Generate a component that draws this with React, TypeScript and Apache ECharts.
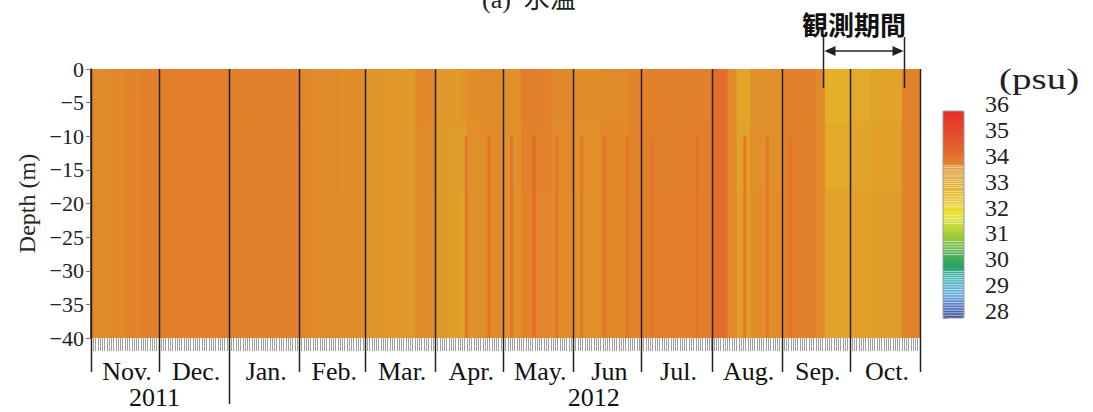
import React, { useEffect, useRef } from "react";
import * as echarts from "echarts";

// ---------- data ----------
const monthNames = ["Nov.", "Dec.", "Jan.", "Feb.", "Mar.", "Apr.", "May.", "Jun", "Jul.", "Aug.", "Sep.", "Oct."];
// day index (from 2011-11-01) at which each month starts, plus end
const monthStartDays = [0, 30, 61, 92, 121, 152, 182, 213, 243, 274, 305, 335, 366];
const yearBoundaryDay = 61;
const yearLabels = ["2011", "2012"];
const yearLabelDays = [28, 222];

// salinity field: piecewise in time, three layers (0..-8 m, -8..-18 m, -18..-40 m)
const layerDepths = [0, -8, -18, -40];
const segStartDays = [0, 8, 15, 22, 30, 61, 92, 97, 110, 121, 130, 137, 143, 148, 152, 158, 163, 166, 172, 182, 190, 197, 203, 213, 225, 237, 243, 260, 274, 281, 285, 291, 305, 320, 324, 335, 344, 358, 366];
const upperSalinity = [33.8, 33.85, 33.95, 34.0, 34.05, 34.0, 33.9, 33.78, 33.75, 33.62, 33.6, 33.55, 33.88, 33.85, 33.58, 33.55, 33.6, 33.75, 33.82, 33.72, 34.05, 34.0, 33.85, 33.75, 33.82, 33.92, 34.0, 34.0, 34.35, 33.8, 33.3, 33.72, 34.0, 33.8, 33.05, 33.2, 33.35, 33.95];
const middleSalinity = [33.8, 33.85, 33.95, 34.0, 34.05, 34.0, 33.9, 33.78, 33.75, 33.62, 33.6, 33.55, 33.83, 33.82, 33.56, 33.5, 33.5, 33.73, 33.81, 33.71, 34.0, 33.95, 33.82, 33.73, 33.84, 33.92, 34.02, 34.02, 34.33, 33.8, 33.36, 33.73, 34.0, 33.8, 33.2, 33.3, 33.4, 33.95];
const lowerSalinity = [33.8, 33.85, 33.95, 34.0, 34.05, 34.0, 33.9, 33.78, 33.75, 33.62, 33.6, 33.55, 33.78, 33.8, 33.55, 33.45, 33.42, 33.72, 33.8, 33.7, 33.95, 33.9, 33.8, 33.72, 33.85, 33.92, 34.05, 34.05, 34.32, 33.8, 33.45, 33.75, 34.0, 33.8, 33.35, 33.4, 33.45, 33.95];

// narrow saline streaks below ~10 m
const streakTopDepth = -10;
const streakDays = [165, 175, 185, 195, 205, 216, 226, 236, 247, 267, 288, 298, 308];
const streakSalinity = [34.2, 34.22, 34.2, 34.4, 34.2, 34.18, 34.2, 34.18, 34.22, 34.22, 34.15, 34.15, 34.2];

// observation period (days)
const observationDays = [323, 359];

// colour scale
const salinityMin = 28;
const salinityMax = 36;
const colorStops = [
  "#3a4ea0", "#5a7fc4", "#6ab4dc", "#48b4c0", "#28a464", "#58b058", "#8cc23e", "#c0d83c",
  "#ece432", "#e8c834", "#e4b22a", "#df9c29", "#e2802b", "#e4632a", "#e6502b", "#e8402b", "#e82e2a",
];
// pale contour stripes in the colour bar
const colorbarStripeLevels = [
  33.88, 33.82, 33.75, 33.68, 33.6, 33.52, 33.45, 33.36, 33.28, 33.2, 33.12, 33.04,
  32.9, 32.8, 32.7, 32.6, 32.5, 32.4, 32.3,
  31.95, 31.85, 31.75, 31.65,
  30.95, 30.85, 30.75, 30.65, 30.55, 30.45,
  29.8, 29.72, 29.64, 29.56, 29.48, 29.4, 29.3, 29.2, 29.1, 29.0, 28.9, 28.8, 28.7, 28.6, 28.5, 28.4, 28.3, 28.2, 28.1,
];

const SERIF = "'Liberation Serif', 'Times New Roman', serif";
const fmtMinus = (v: number) => (v < 0 ? "\u2212" + String(-v) : String(v));

export default function App() {
  const ref = useRef<HTMLDivElement>(null);
  useEffect(() => {
    if (!ref.current) return;
    const chart = echarts.init(ref.current, null, { renderer: "svg" });

    // each layer drawn from the surface down to its bottom, deepest first, so no seams appear
    const field: number[][] = [];
    const layers = [lowerSalinity, middleSalinity, upperSalinity];
    const bottoms = [layerDepths[3], layerDepths[2], layerDepths[1]];
    layers.forEach((vals, li) => {
      for (let i = 0; i < vals.length; i++) {
        field.push([segStartDays[i], segStartDays[i + 1], layerDepths[0], bottoms[li], vals[i]]);
      }
    });
    for (let i = 0; i < streakDays.length; i++) {
      field.push([streakDays[i], streakDays[i] + 1, streakTopDepth, layerDepths[3], streakSalinity[i]]);
    }

    const monthData = monthNames.map((m, i) => [(monthStartDays[i] + monthStartDays[i + 1]) / 2, i]);

    const option: any = {
      animation: false,
      grid: [
        { left: 91, top: 69, width: 829, height: 269, containLabel: false },
        { left: 943, top: 111, width: 21, height: 207, containLabel: false },
      ],
      xAxis: [
        {
          gridIndex: 0, type: "value", min: 0, max: 366, interval: 1, position: "bottom",
          axisLine: { show: false, onZero: false },
          axisTick: { show: true, length: 13, lineStyle: { color: "#a0a0a0", width: 1 } },
          axisLabel: { show: false }, splitLine: { show: false },
        },
        { gridIndex: 1, type: "value", min: 0, max: 1, show: false },
      ],
      yAxis: [
        {
          gridIndex: 0, type: "value", min: -40, max: 0, interval: 5,
          axisLine: { show: true, onZero: false, lineStyle: { color: "#222", width: 1.5 } },
          axisTick: { show: true, length: 5, lineStyle: { color: "#777" } },
          axisLabel: { fontFamily: SERIF, fontSize: 22, color: "#222", margin: 7, formatter: fmtMinus },
          splitLine: { show: false },
          name: "Depth (m)", nameLocation: "middle", nameGap: 52,
          nameTextStyle: { fontFamily: SERIF, fontSize: 24, color: "#222" },
        },
        {
          gridIndex: 1, type: "value", min: salinityMin, max: salinityMax, interval: 1, position: "right",
          axisLine: { show: false },
          axisTick: { show: true, length: 4, lineStyle: { color: "#888" } },
          axisLabel: { fontFamily: SERIF, fontSize: 24, color: "#222", margin: 21, verticalAlign: "bottom", lineHeight: 14 },
          splitLine: { show: false },
        },
      ],
      visualMap: {
        type: "continuous", show: true, min: salinityMin, max: salinityMax,
        dimension: 4, seriesIndex: [0], calculable: false, text: null,
        left: 943, top: 111, itemWidth: 21, itemHeight: 207, padding: 0,
        inRange: { color: colorStops },
        z: 3,
      },
      graphic: [
        {
          type: "text", left: 482, top: -14, z: 10,
          style: { text: "(a)  水温", font: "26px 'Liberation Serif', 'Noto Sans CJK JP', serif", fill: "#222" },
        },
        {
          type: "text", x: 999, y: 64, scaleX: 1.3, z: 10,
          style: { text: "(psu)", font: "30px 'Liberation Serif', serif", fill: "#222" },
        },
      ],
      series: [
        {
          type: "custom", name: "salinity", xAxisIndex: 0, yAxisIndex: 0,
          data: field, encode: { x: [0, 1], y: [2, 3] },
          renderItem: (params: any, api: any) => {
            const p0 = api.coord([api.value(0), api.value(2)]);
            const p1 = api.coord([api.value(1), api.value(3)]);
            return {
              type: "rect",
              shape: { x: p0[0], y: p0[1], width: p1[0] - p0[0] + 0.7, height: p1[1] - p0[1] },
              style: { fill: api.visual("color") },
            };
          },
          z: 1,
        },
        {
          type: "custom", name: "monthLines", xAxisIndex: 0, yAxisIndex: 0,
          data: monthStartDays.map((d) => [d]), encode: { x: 0 }, clip: false, z: 5,
          renderItem: (params: any, api: any) => {
            const d = api.value(0);
            const top = api.coord([d, 0]);
            const bot = api.coord([d, -40]);
            const ext = d === yearBoundaryDay ? 66 : 34;
            const x = Math.round(top[0]) + 0.5;
            return {
              type: "line",
              shape: { x1: x, y1: top[1], x2: x, y2: bot[1] + ext },
              style: { stroke: "#222", lineWidth: 1.5 },
            };
          },
        },
        {
          type: "custom", name: "monthLabels", xAxisIndex: 0, yAxisIndex: 0,
          data: monthData, encode: { x: 0 }, clip: false, z: 5,
          renderItem: (params: any, api: any) => {
            const p = api.coord([api.value(0), -40]);
            return {
              type: "text",
              x: p[0] + 2, y: p[1] + 33,
              style: { text: monthNames[api.value(1)], font: `26px ${SERIF}`, lineHeight: 22, fill: "#111", align: "center", verticalAlign: "middle" },
            };
          },
        },
        {
          type: "custom", name: "yearLabels", xAxisIndex: 0, yAxisIndex: 0,
          data: yearLabelDays.map((d, i) => [d, i]), encode: { x: 0 }, clip: false, z: 5,
          renderItem: (params: any, api: any) => {
            const p = api.coord([api.value(0), -40]);
            return {
              type: "text",
              x: p[0], y: p[1] + 59,
              style: { text: yearLabels[api.value(1)], font: `26px ${SERIF}`, lineHeight: 22, fill: "#111", align: "center", verticalAlign: "middle" },
            };
          },
        },
        {
          type: "custom", name: "observation", xAxisIndex: 0, yAxisIndex: 0,
          data: [observationDays], encode: { x: [0, 1] }, clip: false, z: 6,
          renderItem: (params: any, api: any) => {
            const a = api.coord([api.value(0), 0]);
            const b = api.coord([api.value(1), 0]);
            const x0 = Math.round(a[0]) + 0.5;
            const x1 = Math.round(b[0]) + 0.5;
            const t = a[1];
            const ay = t - 18;
            const st = { stroke: "#222", lineWidth: 1.5 };
            return {
              type: "group",
              children: [
                { type: "line", shape: { x1: x0, y1: t - 32, x2: x0, y2: t + 19 }, style: st },
                { type: "line", shape: { x1: x1, y1: t - 32, x2: x1, y2: t + 19 }, style: st },
                { type: "line", shape: { x1: x0 + 4, y1: ay, x2: x1 - 4, y2: ay }, style: st },
                { type: "polygon", shape: { points: [[x0 + 1, ay], [x0 + 12, ay - 5], [x0 + 12, ay + 5]] }, style: { fill: "#222" } },
                { type: "polygon", shape: { points: [[x1 - 1, ay], [x1 - 12, ay - 5], [x1 - 12, ay + 5]] }, style: { fill: "#222" } },
                {
                  type: "text", x: (x0 + x1) / 2 - 10, y: t - 46,
                  style: { text: "観測期間", font: "bold 26px 'Noto Sans CJK JP', sans-serif", fill: "#111", align: "center", verticalAlign: "middle" },
                },
              ],
            };
          },
        },
        {
          type: "custom", name: "colorbarStripes", xAxisIndex: 1, yAxisIndex: 1,
          data: colorbarStripeLevels.map((v) => [v]), encode: { y: 0 }, clip: false, z: 10,
          renderItem: (params: any, api: any) => {
            const p0 = api.coord([0, api.value(0)]);
            const p1 = api.coord([1, api.value(0)]);
            return {
              type: "line",
              shape: { x1: p0[0], y1: p0[1], x2: p1[0], y2: p1[1] },
              style: { stroke: "rgba(255,255,255,0.55)", lineWidth: 1 },
            };
          },
        },
        {
          type: "custom", name: "colorbarFrame", xAxisIndex: 1, yAxisIndex: 1,
          data: [[salinityMin, salinityMax]], encode: { y: [0, 1] }, clip: false, z: 11,
          renderItem: (params: any, api: any) => {
            const p0 = api.coord([0, api.value(1)]);
            const p1 = api.coord([1, api.value(0)]);
            return {
              type: "rect",
              shape: { x: p0[0], y: p0[1], width: p1[0] - p0[0], height: p1[1] - p0[1] },
              style: { fill: "none", stroke: "#9a9a9a", lineWidth: 1 },
            };
          },
        },
      ],
    };
    chart.setOption(option);
    return () => chart.dispose();
  }, []);

  return (
    <div
      ref={ref}
      style={{ position: "fixed", left: 0, top: 0, width: 1093, height: 412, background: "#fff" }}
    />
  );
}
